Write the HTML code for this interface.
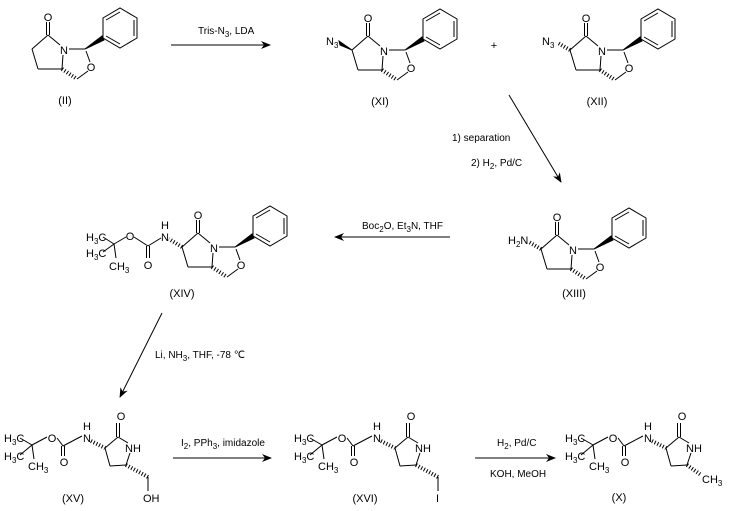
<!DOCTYPE html>
<html><head><meta charset="utf-8"><style>
html,body{margin:0;padding:0;background:#fff;}
svg{display:block;}
text{font-family:"Liberation Sans",Arial,sans-serif;font-size:11px;fill:#000;}
.s{font-size:8px;}
</style></head><body>
<svg width="730" height="511" viewBox="0 0 730 511" xmlns="http://www.w3.org/2000/svg">
<defs>
<marker id="ah" markerWidth="10" markerHeight="8" refX="9" refY="4" orient="auto" markerUnits="userSpaceOnUse">
<path d="M0,0 L10,4 L0,8 L3,4 Z" fill="#000"/>
</marker>
</defs>
<g stroke="#000" stroke-width="1" fill="none">

<!-- II -->
<g transform="translate(48,35)">
<line x1="-1.5" y1="0" x2="-1.5" y2="-13"/><line x1="1.5" y1="0" x2="1.5" y2="-13"/>
<line x1="0" y1="0" x2="12" y2="10"/>
<line x1="21" y1="14" x2="37" y2="14"/>
<line x1="38" y1="16" x2="42" y2="27"/>
<line x1="40" y1="36" x2="29" y2="44"/>
<line x1="14" y1="34" x2="29" y2="44" stroke-width="4" stroke-dasharray="1,2"/>
<line x1="14" y1="34" x2="15" y2="20"/>
<line x1="14" y1="34" x2="-10" y2="34"/>
<line x1="-10" y1="34" x2="-16" y2="14"/>
<line x1="-16" y1="14" x2="0" y2="0"/>
<polygon points="37,14 54,1 56,5" fill="#000"/>
<polygon points="55,3 55,-17 72,-27 89,-17 89,3 72,13"/>
<line x1="58" y1="-15" x2="72" y2="-23"/><line x1="86" y1="-15" x2="86" y2="1"/><line x1="58" y1="1" x2="72" y2="9"/>
</g>

<!-- XI -->
<g transform="translate(368,36)">
<line x1="-1.5" y1="0" x2="-1.5" y2="-13"/><line x1="1.5" y1="0" x2="1.5" y2="-13"/>
<line x1="0" y1="0" x2="12" y2="10"/>
<line x1="21" y1="14" x2="37" y2="14"/>
<line x1="38" y1="16" x2="42" y2="27"/>
<line x1="40" y1="36" x2="29" y2="44"/>
<line x1="14" y1="34" x2="29" y2="44" stroke-width="4" stroke-dasharray="1,2"/>
<line x1="14" y1="34" x2="15" y2="20"/>
<line x1="14" y1="34" x2="-10" y2="34"/>
<line x1="-10" y1="34" x2="-16" y2="14"/>
<line x1="-16" y1="14" x2="0" y2="0"/>
<polygon points="37,14 54,1 56,5" fill="#000"/>
<polygon points="55,3 55,-17 72,-27 89,-17 89,3 72,13"/>
<line x1="58" y1="-15" x2="72" y2="-23"/><line x1="86" y1="-15" x2="86" y2="1"/><line x1="58" y1="1" x2="72" y2="9"/>
<polygon points="-16,14 -29,5 -28,9" fill="#000"/>
</g>

<!-- XII -->
<g transform="translate(586,36)">
<line x1="-1.5" y1="0" x2="-1.5" y2="-13"/><line x1="1.5" y1="0" x2="1.5" y2="-13"/>
<line x1="0" y1="0" x2="12" y2="10"/>
<line x1="21" y1="14" x2="37" y2="14"/>
<line x1="38" y1="16" x2="42" y2="27"/>
<line x1="40" y1="36" x2="29" y2="44"/>
<line x1="14" y1="34" x2="29" y2="44" stroke-width="4" stroke-dasharray="1,2"/>
<line x1="14" y1="34" x2="15" y2="20"/>
<line x1="14" y1="34" x2="-10" y2="34"/>
<line x1="-10" y1="34" x2="-16" y2="14"/>
<line x1="-16" y1="14" x2="0" y2="0"/>
<polygon points="37,14 54,1 56,5" fill="#000"/>
<polygon points="55,3 55,-17 72,-27 89,-17 89,3 72,13"/>
<line x1="58" y1="-15" x2="72" y2="-23"/><line x1="86" y1="-15" x2="86" y2="1"/><line x1="58" y1="1" x2="72" y2="9"/>
<line x1="-16" y1="14" x2="-28" y2="7" stroke-width="4" stroke-dasharray="1,2"/>
</g>

<!-- XIII -->
<g transform="translate(557,235)">
<line x1="-1.5" y1="0" x2="-1.5" y2="-13"/><line x1="1.5" y1="0" x2="1.5" y2="-13"/>
<line x1="0" y1="0" x2="12" y2="10"/>
<line x1="21" y1="14" x2="37" y2="14"/>
<line x1="38" y1="16" x2="42" y2="27"/>
<line x1="40" y1="36" x2="29" y2="44"/>
<line x1="14" y1="34" x2="29" y2="44" stroke-width="4" stroke-dasharray="1,2"/>
<line x1="14" y1="34" x2="15" y2="20"/>
<line x1="14" y1="34" x2="-10" y2="34"/>
<line x1="-10" y1="34" x2="-16" y2="14"/>
<line x1="-16" y1="14" x2="0" y2="0"/>
<polygon points="37,14 54,1 56,5" fill="#000"/>
<polygon points="55,3 55,-17 72,-27 89,-17 89,3 72,13"/>
<line x1="58" y1="-15" x2="72" y2="-23"/><line x1="86" y1="-15" x2="86" y2="1"/><line x1="58" y1="1" x2="72" y2="9"/>
<line x1="-16" y1="14" x2="-28" y2="7" stroke-width="4" stroke-dasharray="1,2"/>
</g>

<!-- XIV -->
<g transform="translate(198,233)">
<line x1="-1.5" y1="0" x2="-1.5" y2="-13"/><line x1="1.5" y1="0" x2="1.5" y2="-13"/>
<line x1="0" y1="0" x2="12" y2="10"/>
<line x1="21" y1="14" x2="37" y2="14"/>
<line x1="38" y1="16" x2="42" y2="27"/>
<line x1="40" y1="36" x2="29" y2="44"/>
<line x1="14" y1="34" x2="29" y2="44" stroke-width="4" stroke-dasharray="1,2"/>
<line x1="14" y1="34" x2="15" y2="20"/>
<line x1="14" y1="34" x2="-10" y2="34"/>
<line x1="-10" y1="34" x2="-16" y2="14"/>
<line x1="-16" y1="14" x2="0" y2="0"/>
<polygon points="37,14 54,1 56,5" fill="#000"/>
<polygon points="55,3 55,-17 72,-27 89,-17 89,3 72,13"/>
<line x1="58" y1="-15" x2="72" y2="-23"/><line x1="86" y1="-15" x2="86" y2="1"/><line x1="58" y1="1" x2="72" y2="9"/>
<line x1="-16" y1="14" x2="-29" y2="6" stroke-width="4" stroke-dasharray="1,2"/>
</g>
<!-- XIV Boc -->
<line x1="114" y1="244" x2="103" y2="237"/>
<line x1="114" y1="244" x2="103" y2="252"/>
<line x1="114" y1="244" x2="116" y2="258"/>
<line x1="114" y1="244" x2="126" y2="237"/>
<line x1="134" y1="237" x2="148" y2="246"/>
<line x1="146.5" y1="246" x2="146.5" y2="258"/><line x1="149.5" y1="246" x2="149.5" y2="258"/>
<line x1="148" y1="246" x2="161" y2="238"/>

<!-- XV, XVI, X -->
<g transform="translate(0,0)">
<line x1="32" y1="445" x2="20" y2="438"/><line x1="32" y1="445" x2="20" y2="455"/><line x1="32" y1="445" x2="34" y2="459"/><line x1="32" y1="445" x2="47" y2="437"/>
<line x1="57" y1="438" x2="63" y2="446"/>
<line x1="61.5" y1="446" x2="61.5" y2="456"/><line x1="64.5" y1="446" x2="64.5" y2="456"/>
<line x1="63" y1="446" x2="82" y2="436"/>
<line x1="91" y1="441" x2="105" y2="448" stroke-width="4" stroke-dasharray="1,2"/>
<line x1="105" y1="448" x2="118" y2="437"/>
<line x1="116.5" y1="437" x2="116.5" y2="423"/><line x1="119.5" y1="437" x2="119.5" y2="423"/>
<line x1="118" y1="437" x2="128" y2="443"/>
<line x1="130" y1="453" x2="126" y2="465"/>
<line x1="126" y1="465" x2="110" y2="466"/>
<line x1="110" y1="466" x2="105" y2="448"/>
<line x1="126" y1="465" x2="148" y2="477" stroke-width="4" stroke-dasharray="1,2"/>
<line x1="148" y1="477" x2="148" y2="491"/>
</g>
<g transform="translate(290,0)">
<line x1="32" y1="445" x2="20" y2="438"/><line x1="32" y1="445" x2="20" y2="455"/><line x1="32" y1="445" x2="34" y2="459"/><line x1="32" y1="445" x2="47" y2="437"/>
<line x1="57" y1="438" x2="63" y2="446"/>
<line x1="61.5" y1="446" x2="61.5" y2="456"/><line x1="64.5" y1="446" x2="64.5" y2="456"/>
<line x1="63" y1="446" x2="82" y2="436"/>
<line x1="91" y1="441" x2="105" y2="448" stroke-width="4" stroke-dasharray="1,2"/>
<line x1="105" y1="448" x2="118" y2="437"/>
<line x1="116.5" y1="437" x2="116.5" y2="423"/><line x1="119.5" y1="437" x2="119.5" y2="423"/>
<line x1="118" y1="437" x2="128" y2="443"/>
<line x1="130" y1="453" x2="126" y2="465"/>
<line x1="126" y1="465" x2="110" y2="466"/>
<line x1="110" y1="466" x2="105" y2="448"/>
<line x1="126" y1="465" x2="148" y2="477" stroke-width="4" stroke-dasharray="1,2"/>
<line x1="148" y1="477" x2="148" y2="491"/>
</g>
<g transform="translate(561,0)">
<line x1="32" y1="445" x2="20" y2="438"/><line x1="32" y1="445" x2="20" y2="455"/><line x1="32" y1="445" x2="34" y2="459"/><line x1="32" y1="445" x2="47" y2="437"/>
<line x1="57" y1="438" x2="63" y2="446"/>
<line x1="61.5" y1="446" x2="61.5" y2="456"/><line x1="64.5" y1="446" x2="64.5" y2="456"/>
<line x1="63" y1="446" x2="82" y2="436"/>
<line x1="91" y1="441" x2="105" y2="448" stroke-width="4" stroke-dasharray="1,2"/>
<line x1="105" y1="448" x2="118" y2="437"/>
<line x1="116.5" y1="437" x2="116.5" y2="423"/><line x1="119.5" y1="437" x2="119.5" y2="423"/>
<line x1="118" y1="437" x2="128" y2="443"/>
<line x1="130" y1="453" x2="126" y2="465"/>
<line x1="126" y1="465" x2="110" y2="466"/>
<line x1="110" y1="466" x2="105" y2="448"/>
<line x1="126" y1="465" x2="140" y2="475" stroke-width="4" stroke-dasharray="1,2"/>
</g>

<!-- arrows -->
<line x1="171" y1="45" x2="270" y2="45" marker-end="url(#ah)"/>
<line x1="509" y1="95" x2="561" y2="182" marker-end="url(#ah)"/>
<line x1="450" y1="237" x2="335" y2="237" marker-end="url(#ah)"/>
<line x1="162" y1="313" x2="120" y2="397" marker-end="url(#ah)"/>
<line x1="173" y1="458" x2="271" y2="458" marker-end="url(#ah)"/>
<line x1="475" y1="458" x2="555" y2="458" marker-end="url(#ah)"/>
</g>

<!-- texts -->
<g>
<text x="48" y="21" text-anchor="middle">O</text>
<text x="64" y="54" text-anchor="middle">N</text>
<text x="91" y="71" text-anchor="middle">O</text>
<text x="65" y="104" text-anchor="middle">(II)</text>

<text x="368" y="22" text-anchor="middle">O</text>
<text x="384" y="55" text-anchor="middle">N</text>
<text x="411" y="72" text-anchor="middle">O</text>
<text x="326" y="45">N<tspan class="s" dy="3">3</tspan></text>
<text x="380" y="105" text-anchor="middle">(XI)</text>

<text x="586" y="22" text-anchor="middle">O</text>
<text x="602" y="55" text-anchor="middle">N</text>
<text x="629" y="72" text-anchor="middle">O</text>
<text x="542" y="45">N<tspan class="s" dy="3">3</tspan></text>
<text x="597" y="105" text-anchor="middle">(XII)</text>
<text x="494" y="49" text-anchor="middle">+</text>

<text x="557" y="221" text-anchor="middle">O</text>
<text x="573" y="254" text-anchor="middle">N</text>
<text x="600" y="271" text-anchor="middle">O</text>
<text x="508" y="244">H<tspan class="s" dy="3">2</tspan><tspan dy="-3">N</tspan></text>
<text x="574" y="297" text-anchor="middle">(XIII)</text>

<text x="198" y="219" text-anchor="middle">O</text>
<text x="214" y="252" text-anchor="middle">N</text>
<text x="241" y="269" text-anchor="middle">O</text>
<text x="165" y="229" text-anchor="middle">H</text>
<text x="165" y="241" text-anchor="middle">N</text>
<text x="130" y="240" text-anchor="middle">O</text>
<text x="148" y="269" text-anchor="middle">O</text>
<text x="86" y="241">H<tspan class="s" dy="3">3</tspan><tspan dy="-3">C</tspan></text>
<text x="86" y="257">H<tspan class="s" dy="3">3</tspan><tspan dy="-3">C</tspan></text>
<text x="109" y="270">CH<tspan class="s" dy="3">3</tspan></text>
<text x="182" y="297" text-anchor="middle">(XIV)</text>
</g>
<g>
<text x="4" y="442">H<tspan class="s" dy="3">3</tspan><tspan dy="-3">C</tspan></text>
<text x="4" y="460">H<tspan class="s" dy="3">3</tspan><tspan dy="-3">C</tspan></text>
<text x="28" y="470">CH<tspan class="s" dy="3">3</tspan></text>
<text x="52" y="442" text-anchor="middle">O</text>
<text x="64" y="466" text-anchor="middle">O</text>
<text x="87" y="430" text-anchor="middle">H</text>
<text x="87" y="442" text-anchor="middle">N</text>
<text x="121" y="420" text-anchor="middle">O</text>
<text x="125" y="452">NH</text>
<text x="143" y="502">OH</text>
<text x="73" y="502" text-anchor="middle">(XV)</text>
</g>
<g transform="translate(290,0)">
<text x="4" y="442">H<tspan class="s" dy="3">3</tspan><tspan dy="-3">C</tspan></text>
<text x="4" y="460">H<tspan class="s" dy="3">3</tspan><tspan dy="-3">C</tspan></text>
<text x="28" y="470">CH<tspan class="s" dy="3">3</tspan></text>
<text x="52" y="442" text-anchor="middle">O</text>
<text x="64" y="466" text-anchor="middle">O</text>
<text x="87" y="430" text-anchor="middle">H</text>
<text x="87" y="442" text-anchor="middle">N</text>
<text x="121" y="420" text-anchor="middle">O</text>
<text x="125" y="452">NH</text>
<text x="146" y="502">I</text>
<text x="75" y="502" text-anchor="middle">(XVI)</text>
</g>
<g transform="translate(561,0)">
<text x="4" y="442">H<tspan class="s" dy="3">3</tspan><tspan dy="-3">C</tspan></text>
<text x="4" y="460">H<tspan class="s" dy="3">3</tspan><tspan dy="-3">C</tspan></text>
<text x="28" y="470">CH<tspan class="s" dy="3">3</tspan></text>
<text x="52" y="442" text-anchor="middle">O</text>
<text x="64" y="466" text-anchor="middle">O</text>
<text x="87" y="430" text-anchor="middle">H</text>
<text x="87" y="442" text-anchor="middle">N</text>
<text x="121" y="420" text-anchor="middle">O</text>
<text x="125" y="452">NH</text>
<text x="141" y="483">CH<tspan class="s" dy="3">3</tspan></text>
<text x="58" y="501" text-anchor="middle">(X)</text>
</g>
<g>
<text x="198" y="34" style="font-size:10px">Tris-N<tspan class="s" dy="3">3</tspan><tspan dy="-3">, LDA</tspan></text>
<text x="452" y="141" style="font-size:10px">1) separation</text>
<text x="471" y="166" style="font-size:10px">2) H<tspan class="s" dy="3">2</tspan><tspan dy="-3">, Pd/C</tspan></text>
<text x="362" y="229" style="font-size:10px">Boc<tspan class="s" dy="3">2</tspan><tspan dy="-3">O, Et</tspan><tspan class="s" dy="3">3</tspan><tspan dy="-3">N, THF</tspan></text>
<text x="155" y="358" style="font-size:10px">Li, NH<tspan class="s" dy="3">3</tspan><tspan dy="-3">, THF, -78 ℃</tspan></text>
<text x="181" y="446" style="font-size:10px">I<tspan class="s" dy="3">2</tspan><tspan dy="-3">, PPh</tspan><tspan class="s" dy="3">3</tspan><tspan dy="-3">, imidazole</tspan></text>
<text x="497" y="446" style="font-size:10px">H<tspan class="s" dy="3">2</tspan><tspan dy="-3">, Pd/C</tspan></text>
<text x="490" y="477" style="font-size:10px">KOH, MeOH</text>
</g>
</svg>
</body></html>
